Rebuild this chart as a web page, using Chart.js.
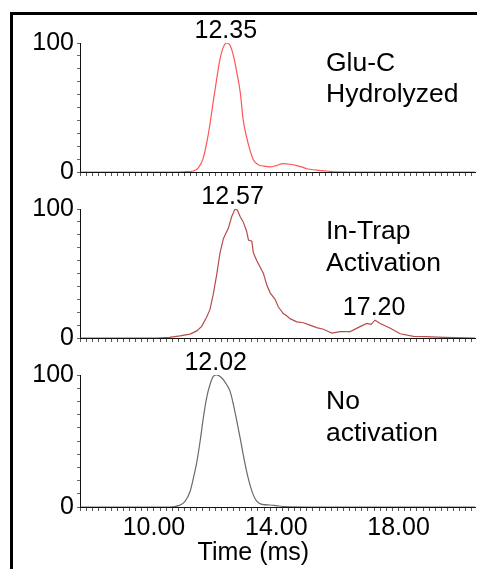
<!DOCTYPE html>
<html><head><meta charset="utf-8">
<script src="https://cdn.jsdelivr.net/npm/chart.js@4"></script>
<style>
html,body{margin:0;padding:0;background:#fff;width:477px;height:569px;overflow:hidden;}
#frame{position:absolute;left:10px;top:12px;width:467px;height:557px;border-top:3px solid #000;border-left:3px solid #000;box-sizing:border-box;}
.box{position:absolute;left:0;width:477px;}
canvas{display:block;}
</style></head><body>
<div id="frame"></div>
<div class="box" style="top:0;height:190px"><canvas id="c1" width="477" height="190"></canvas></div>
<div class="box" style="top:176px;height:180px"><canvas id="c2" width="477" height="180"></canvas></div>
<div class="box" style="top:344px;height:225px"><canvas id="c3" width="477" height="225"></canvas></div>
<script>
// ---- data ----
const xMin = 7.58, xMax = 20.5;
const xMajorLabels = [10, 14, 18];
const yLabels = [0, 100];

const timeGlu = [7.6, 8.5, 9.5, 10.5, 11.0, 11.29, 11.45, 11.61, 11.72, 11.83, 11.94, 12.05, 12.16, 12.27, 12.38, 12.49, 12.6, 12.71, 12.82, 12.92, 13.03, 13.14, 13.25, 13.41, 13.6, 13.8, 14.0, 14.22, 14.45, 14.67, 14.85, 15.0, 15.32, 15.6, 15.98, 17, 18, 19, 20.5];
const valGlu  = [0, 0, 0, 0, 0.2, 0.8, 3.2, 10.8, 22, 37, 55, 72, 87.5, 97, 100, 98, 90, 77, 62, 40, 27, 17, 9.5, 5.7, 4.5, 4, 5, 6.5, 6, 5, 3.8, 2.5, 1.5, 0.8, 0.2, 0, 0, 0, 0];

const timeTrap = [7.6, 9.0, 10.1, 10.5, 10.85, 11.18, 11.4, 11.56, 11.72, 11.83, 11.94, 12.05, 12.16, 12.27, 12.43, 12.54, 12.65, 12.73, 12.82, 12.92, 13.03, 13.09, 13.2, 13.25, 13.36, 13.47, 13.58, 13.69, 13.8, 13.96, 14.07, 14.23, 14.35, 14.45, 14.67, 14.89, 15.1, 15.32, 15.54, 15.7, 15.82, 16.09, 16.42, 16.74, 16.96, 17.1, 17.23, 17.4, 17.73, 18.05, 18.49, 18.9, 19.5, 20.5];
const valTrap  = [0, 0, 0, 0.5, 1.6, 3, 5.5, 9, 16, 22, 34, 49, 66, 77, 85, 94, 100, 99, 94, 90, 82.6, 76, 75, 66, 60, 55, 50, 41, 35, 30, 24, 19, 17, 15, 12.5, 11.8, 10, 8, 6.8, 5, 3.8, 5, 5, 8.8, 11.3, 10.5, 13.8, 11.3, 7.5, 3.3, 1.3, 1, 0.5, 0];

const timeNone = [7.6, 9, 10.5, 10.8, 11.01, 11.18, 11.29, 11.4, 11.51, 11.61, 11.72, 11.83, 11.94, 12.05, 12.22, 12.38, 12.49, 12.6, 12.71, 12.82, 12.92, 13.03, 13.14, 13.25, 13.36, 13.53, 13.8, 14.0, 14.3, 15, 20.5];
const valNone  = [0, 0, 0, 1, 4, 11.7, 22, 34, 50, 67, 82.5, 92.6, 99, 100, 97.7, 92.6, 87.6, 77.4, 65, 52, 39.5, 27, 16.7, 9, 4.5, 2, 1.5, 1, 0.3, 0, 0];

const peaksGlu  = [{x: 12.35, y: 100, text: '12.35'}];
const peaksTrap = [{x: 12.57, y: 100, text: '12.57'}, {x: 17.20, y: 13.8, text: '17.20'}];
const peaksNone = [{x: 12.02, y: 100, text: '12.02'}];
const nameGlu  = ['Glu-C', 'Hydrolyzed'];
const nameTrap = ['In-Trap', 'Activation'];
const nameNone = ['No', 'activation'];
const xTitle = 'Time (ms)';

// tick positions (generated scale ticks)
const xTickValues = [];
for (let i = 38; i <= 102; i++) xTickValues.push(i / 5);
const yTickValues = [];
for (let i = 0; i <= 10; i++) yTickValues.push(i * 10);

const FONT = '"Liberation Sans", Arial, sans-serif';

const textPlugin = {
  id: 'texts',
  afterDatasetsDraw(chart, args, opts) {
    const {ctx, chartArea} = chart;
    const xs = chart.scales.x, ys = chart.scales.y;
    ctx.save();
    ctx.fillStyle = '#000';
    ctx.textBaseline = 'alphabetic';
    ctx.font = '25px ' + FONT;
    ctx.textAlign = 'center';
    (opts.peaks || []).forEach(p => ctx.fillText(p.text, xs.getPixelForValue(p.x), ys.getPixelForValue(p.y) - 5));
    ctx.font = '26.5px ' + FONT;
    ctx.textAlign = 'left';
    (opts.names || []).forEach((line, i) => ctx.fillText(line, chartArea.left + opts.nameX, chartArea.top + opts.nameY[i]));
    if (opts.title) {
      ctx.font = '25px ' + FONT;
      ctx.textAlign = 'center';
      ctx.fillText(opts.title, xs.getPixelForValue(opts.titleX), opts.titleY);
    }
    ctx.restore();
  }
};

function makeChart(id, times, vals, color, o) {
  const data = times.map((t, i) => ({x: t, y: vals[i]}));
  return new Chart(document.getElementById(id), {
    type: 'line',
    data: {datasets: [{data, borderColor: color, borderWidth: 1.2, pointRadius: 0, tension: o.tension, cubicInterpolationMode: o.mono ? 'monotone' : 'default', fill: false}]},
    options: {
      responsive: false, animation: false, devicePixelRatio: 1,
      layout: {padding: {top: o.padTop, right: 2, left: 0, bottom: 0}},
      plugins: {
        legend: {display: false}, tooltip: {enabled: false},
        texts: {peaks: o.peaks, names: o.names, nameX: 246, nameY: o.nameY, title: o.title, titleX: 13.25, titleY: o.titleY}
      },
      scales: {
        x: {
          type: 'linear', min: xMin, max: xMax,
          afterBuildTicks: s => { s.ticks = xTickValues.map(v => ({value: v})); },
          afterFit: s => { s.height = o.xHeight; },
          grid: {display: true, drawOnChartArea: false, drawTicks: true, tickLength: 4, color: '#555', tickColor: '#555', lineWidth: 1},
          border: {display: true, color: '#111', width: 1},
          ticks: {display: o.showX, autoSkip: false, maxRotation: 0, minRotation: 0, padding: 2, color: '#000', font: {size: 25, family: FONT},
            callback: v => xMajorLabels.some(m => Math.abs(m - v) < 1e-6) ? Number(v).toFixed(2) : ''}
        },
        y: {
          min: 0, max: 100,
          afterBuildTicks: s => { s.ticks = yTickValues.map(v => ({value: v})); },
          afterFit: s => { s.width = 80; },
          grid: {display: true, drawOnChartArea: false, drawTicks: true, tickLength: 3, color: '#666', tickColor: '#666'},
          border: {display: true, color: '#111', width: 1},
          ticks: {autoSkip: false, padding: 3, color: '#000', font: {size: 25, family: FONT},
            callback: v => yLabels.includes(v) ? String(v) : ''}
        }
      }
    },
    plugins: [textPlugin]
  });
}

makeChart('c1', timeGlu, valGlu, '#ff5555', {padTop: 43, xHeight: 15, showX: false, tension: 0.4, mono: true, peaks: peaksGlu, names: nameGlu, nameY: [27.5, 58.5]});
makeChart('c2', timeTrap, valTrap, '#b84c4c', {padTop: 33, xHeight: 14, showX: false, tension: 0, mono: false, peaks: peaksTrap, names: nameTrap, nameY: [29.5, 62]});
makeChart('c3', timeNone, valNone, '#6a6a6a', {padTop: 31, xHeight: 62, showX: true, tension: 0.4, mono: true, peaks: peaksNone, names: nameNone, nameY: [34, 66], title: xTitle, titleY: 216});
</script>
</body></html>
